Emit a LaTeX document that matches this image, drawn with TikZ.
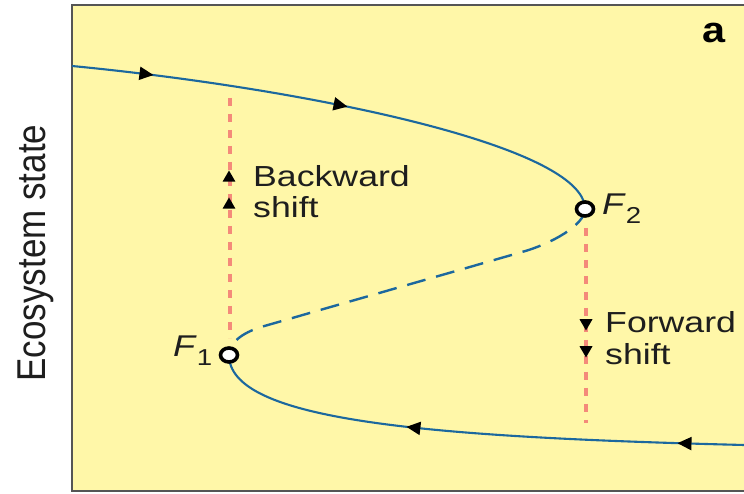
\documentclass[tikz,border=0pt]{standalone}
\usepackage{fontspec}
\setmainfont{Liberation Sans}
\usetikzlibrary{decorations.markings,arrows.meta,shapes.geometric}
\definecolor{bgyellow}{RGB}{255,247,168}
\definecolor{curveblue}{RGB}{28,104,158}
\definecolor{salmonred}{RGB}{244,138,122}
\definecolor{framegray}{RGB}{85,85,85}
\definecolor{txt}{RGB}{30,30,30}
\begin{document}
\begin{tikzpicture}[x=1pt,y=1pt,
  curve/.style={curveblue, line width=2.1pt},
  midcurve/.style={curveblue, line width=2.4pt, dash pattern=on 19pt off 11pt},
  shiftline/.style={salmonred, line width=3.2pt, dash pattern=on 8pt off 8pt},
  fixpt/.style={ellipse, draw=black, fill=white, line width=3.6pt, minimum width=17pt, minimum height=14pt, inner sep=0pt},
  lab/.style={font=\fontsize{29}{31}\selectfont, text=txt, inner sep=0pt, anchor=base west},
  flab/.style={font=\fontsize{30}{32}\selectfont, text=txt, inner sep=0pt, anchor=base west},
  uptri/.style={regular polygon, regular polygon sides=3, fill=black, inner sep=0pt, minimum size=15pt},
  downtri/.style={uptri, shape border rotate=180},
  fwd/.style={postaction={decorate, decoration={markings,
     mark=at position #1 with {\arrow[black]{Triangle[length=14pt,width=13pt]}}}}},
  bwd/.style={postaction={decorate, decoration={markings,
     mark=at position #1 with {\arrowreversed[black]{Triangle[length=14pt,width=13pt]}}}}}
]
\useasboundingbox (0,0) rectangle (744,494);
\filldraw[fill=bgyellow, draw=framegray, line width=2.5pt] (72,3) rectangle (780,489);

% named points
\coordinate (S) at (72,428);
\coordinate (F2) at (585,285);
\coordinate (F1) at (229,139);
\coordinate (E) at (744,49);
\coordinate (L1) at (230,396);
\coordinate (L2) at (230,156);
\coordinate (R1) at (586,266);
\coordinate (R2) at (586,71);

% shift lines
\draw[shiftline] (L1) -- (L2);
\draw[shiftline] (R1) -- (R2);

% upper stable branch
\draw[curve, fwd=0.15, fwd=0.51] (S) .. controls (300,406) and (585,349) .. (F2);
% unstable branch
\draw[midcurve] (F2) .. controls (585,269) and (551,250) .. (522,242)
  -- (261,167) .. controls (242,161) and (229,151) .. (F1);
% lower stable branch
\draw[curve, bwd=0.375, bwd=0.877] (F1) .. controls (229,74) and (420,57) .. (E);

% fold points
\node[fixpt] (p2) at (F2) {};
\node[fixpt] (p1) at (F1) {};
\node[flab] (f2) at (602,279) {\scalebox{1.2}[1]{\textit{F}\raisebox{-9pt}{\fontsize{23}{25}\selectfont 2}}};
\node[flab] (f1) at (173,137) {\scalebox{1.2}[1]{\textit{F}\raisebox{-9pt}{\fontsize{23}{25}\selectfont 1}}};

% shift markers
\node[uptri] (b1) at (229,316) {};
\node[uptri] (b2) at (229,289) {};
\node[downtri] (d1) at (586,171) {};
\node[downtri] (d2) at (586,144) {};

\node[lab] (bk) at (253,307) {\scalebox{1.23}[1]{Backward}};
\node[lab] (bs) at (253,276) {\scalebox{1.23}[1]{shift}};
\node[lab] (fw) at (605,161) {\scalebox{1.23}[1]{Forward}};
\node[lab] (fs) at (605,129) {\scalebox{1.23}[1]{shift}};

% panel letter and axis
\node[font=\fontsize{36}{38}\selectfont\bfseries, text=black, inner sep=0pt, anchor=base west] (pa) at (702,451) {\scalebox{1.15}[1]{a}};
\node[font=\fontsize{35}{38}\selectfont, text=txt, inner sep=0pt, anchor=base, rotate=90] (ax) at (45,241) {\scalebox{1}[1.15]{Ecosystem state}};
\end{tikzpicture}
\end{document}
